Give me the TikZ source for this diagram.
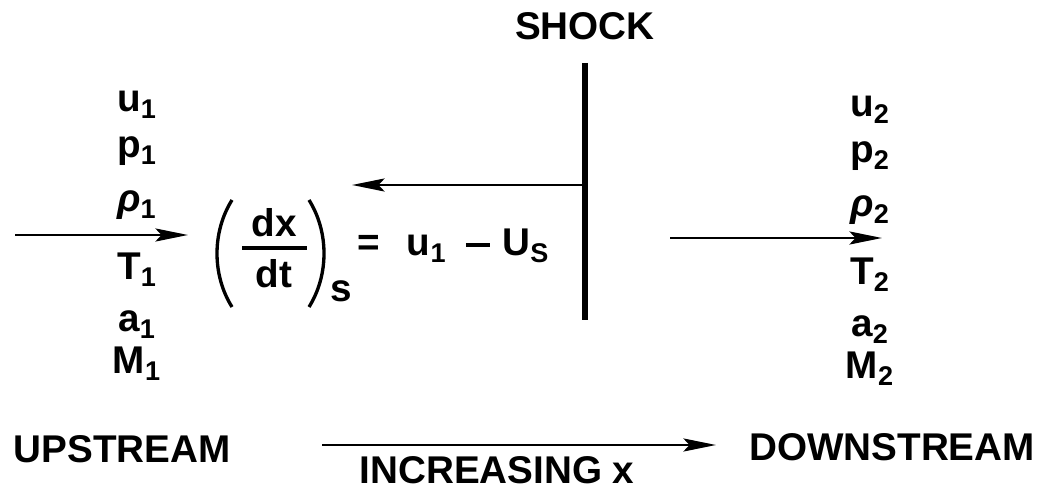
\documentclass[tikz,border=0pt]{standalone}
\usepackage{fontspec}
\setmainfont{Liberation Sans}
\usepackage{tikz}
\usetikzlibrary{arrows.meta}
\tikzset{
  >={Stealth[length=6.5mm,width=2.6mm,inset=1.2mm]},
  lbl/.style={font=\fontsize{22}{26}\selectfont\bfseries,inner sep=0pt,anchor=base},
  flow/.style={->,line width=1.6pt},
  front/.style={line width=3.2pt},
  paren/.style={line width=1.9pt},
}
\newcommand{\minusbar}{\rule[0.24em]{0.62em}{0.09em}}
\begin{document}
\begin{tikzpicture}[x=0.02cm,y=-0.02cm]
  \useasboundingbox (0,0) rectangle (1043,492);
  % shock front
  \node[lbl] (shk) at (585,40) {SHOCK};
  \coordinate (ftop) at (585,63);
  \coordinate (fbot) at (585,320);
  \draw[front] (ftop) -- (fbot);
  % states either side
  \foreach \n/\v/\y in {u/u/112,p/p/158,r/\textit{ρ}/212,T/T/280,a/a/332,M/M/374}{
    \node[lbl] (\n1) at (137,\y) {\v\textsubscript{1}};
    \node[lbl] (\n2) at (870,\y+5) {\v\textsubscript{2}};
  }
  % flow arrows
  \coordinate (inA) at (15,235); \coordinate (inB) at (188,235);
  \draw[flow] (inA) -- (inB);
  \coordinate (outA) at (670,238); \coordinate (outB) at (882,238);
  \draw[flow] (outA) -- (outB);
  \coordinate (relB) at (352,185);
  \draw[flow] (ftop |- relB) -- (relB);
  % shock speed (dx/dt)_s
  \node[lbl] (dx) at (274,237) {dx};
  \node[lbl] (dt) at (274,288) {dt};
  \draw[line width=2.2pt] (242,248) -- (307,248);
  \draw[paren] (232,200) .. controls (212,232) and (212,275) .. (232,307);
  \draw[paren] (309,200) .. controls (329,232) and (329,275) .. (309,307);
  \node[lbl] (sub) at (341,302) {s};
  \node[lbl,anchor=base west] (rel) at (357,256) {=\hspace{0.7em}u\textsubscript{1}\hspace{0.5em}\minusbar\hspace{0.33em}U\textsubscript{S}};
  % direction
  \node[lbl] (ups) at (122,462) {UPSTREAM};
  \node[lbl] (dns) at (892,460) {DOWNSTREAM};
  \coordinate (dirA) at (322,445); \coordinate (dirB) at (716,445);
  \draw[flow] (dirA) -- (dirB);
  \node[lbl] (inc) at (497,483) {INCREASING x};
\end{tikzpicture}
\end{document}
